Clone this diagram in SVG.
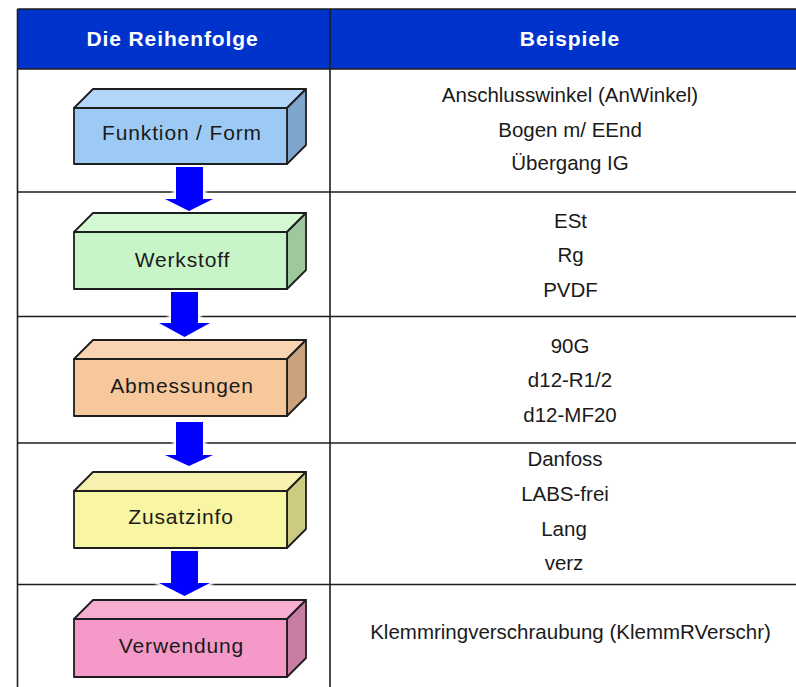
<svg xmlns="http://www.w3.org/2000/svg" width="796" height="687" viewBox="0 0 796 687">
  <defs>
    <style>
      .grid { stroke: #1e1e1e; stroke-width: 1.6; fill: none; }
      .head { font-family: "Liberation Sans", Arial, sans-serif; font-weight: bold; font-size: 21px; letter-spacing: 0.9px; fill: #ffffff; text-anchor: middle; }
      .ex { font-family: "Liberation Sans", Arial, sans-serif; font-size: 20.5px; fill: #1a1a1a; text-anchor: middle; }
      .lbl { font-family: "Liberation Sans", Arial, sans-serif; font-size: 21px; letter-spacing: 0.85px; fill: #1a1a1a; text-anchor: middle; }
      .edge { stroke: #1e1e1e; stroke-width: 1.8; stroke-linejoin: round; }
      .arrow { fill: #0000ff; }
      .halo { fill: #ffffff; stroke: #ffffff; stroke-width: 6; stroke-linejoin: round; filter: url(#soft); }
    </style>
    <filter id="soft" x="-20%" y="-20%" width="140%" height="140%">
      <feGaussianBlur stdDeviation="1.6"/>
    </filter>
  </defs>

  <rect width="796" height="687" fill="#ffffff"/>

  <!-- table frame and header -->
  <g id="table">
    <rect x="17.5" y="9" width="800" height="60" fill="#0033cc"/>
    <line class="grid" x1="17.5" y1="9" x2="800" y2="9"/>
    <line class="grid" x1="17.5" y1="69" x2="800" y2="69"/>
    <line class="grid" x1="17.5" y1="192" x2="800" y2="192"/>
    <line class="grid" x1="17.5" y1="316.5" x2="800" y2="316.5"/>
    <line class="grid" x1="17.5" y1="443" x2="800" y2="443"/>
    <line class="grid" x1="17.5" y1="584.5" x2="800" y2="584.5"/>
    <line class="grid" x1="17.5" y1="9" x2="17.5" y2="690"/>
    <line class="grid" x1="330" y1="9" x2="330" y2="690"/>
    <text class="head" x="172.5" y="46">Die Reihenfolge</text>
    <text class="head" x="570" y="46">Beispiele</text>
  </g>

  <!-- examples column -->
  <g id="examples">
    <text class="ex" x="570" y="102">Anschlusswinkel (AnWinkel)</text>
    <text class="ex" x="570" y="136.5">Bogen m/ EEnd</text>
    <text class="ex" x="570" y="170">Übergang IG</text>

    <text class="ex" x="570.5" y="228">ESt</text>
    <text class="ex" x="570.5" y="262">Rg</text>
    <text class="ex" x="570.5" y="297">PVDF</text>

    <text class="ex" x="570" y="352.5">90G</text>
    <text class="ex" x="570" y="387">d12-R1/2</text>
    <text class="ex" x="570" y="421.5">d12-MF20</text>

    <text class="ex" x="565" y="466">Danfoss</text>
    <text class="ex" x="565" y="501">LABS-frei</text>
    <text class="ex" x="564" y="535.5">Lang</text>
    <text class="ex" x="564" y="570">verz</text>

    <text class="ex" x="570.5" y="638.5">Klemmringverschraubung (KlemmRVerschr)</text>
  </g>

  <!-- flow arrows between the steps -->
  <g id="connectors">
    <g id="halos">
      <polygon class="halo" points="176,167 203,167 203,199 213,199 189,211 165,199 176,199"/>
      <polygon class="halo" points="171,292 198,292 198,323 210,323 184.5,337 159,323 171,323"/>
      <polygon class="halo" points="176,422 203,422 203,455 213,455 189,466 165,455 176,455"/>
      <polygon class="halo" points="171,551 198,551 198,583 210,583 184.5,596 159,583 171,583"/>
    </g>
    <polygon class="arrow" points="176,167 203,167 203,199 213,199 189,211 165,199 176,199"/>
    <polygon class="arrow" points="171,292 198,292 198,323 210,323 184.5,337 159,323 171,323"/>
    <polygon class="arrow" points="176,422 203,422 203,455 213,455 189,466 165,455 176,455"/>
    <polygon class="arrow" points="171,551 198,551 198,583 210,583 184.5,596 159,583 171,583"/>
  </g>

  <!-- step boxes -->
  <g id="funktion">
    <polygon class="edge" fill="#b2d6fa" points="74,108 93,89 306,89 287,108"/>
    <polygon class="edge" fill="#7ea6cc" points="287,108 306,89 306,145 287,164"/>
    <rect class="edge" x="74" y="108" width="213" height="56" fill="#9dcaf5"/>
    <text class="lbl" x="182" y="140">Funktion / Form</text>
  </g>

  <g id="werkstoff">
    <polygon class="edge" fill="#d4f8d4" points="74,232 93,213 306,213 287,232"/>
    <polygon class="edge" fill="#9fc89f" points="287,232 306,213 306,270 287,289"/>
    <rect class="edge" x="74" y="232" width="213" height="57" fill="#c8f5c8"/>
    <text class="lbl" x="182.5" y="267">Werkstoff</text>
  </g>

  <g id="abmessungen">
    <polygon class="edge" fill="#f9d4b0" points="74,359 93,340 306,340 287,359"/>
    <polygon class="edge" fill="#cca27c" points="287,359 306,340 306,397 287,416"/>
    <rect class="edge" x="74" y="359" width="213" height="57" fill="#f7c89c"/>
    <text class="lbl" x="182" y="393">Abmessungen</text>
  </g>

  <g id="zusatzinfo">
    <polygon class="edge" fill="#f6f2ae" points="74,491 93,472 306,472 287,491"/>
    <polygon class="edge" fill="#cccb80" points="287,491 306,472 306,529 287,548"/>
    <rect class="edge" x="74" y="491" width="213" height="57" fill="#f8f6a2"/>
    <text class="lbl" x="181" y="524">Zusatzinfo</text>
  </g>

  <g id="verwendung">
    <polygon class="edge" fill="#f6aed2" points="74,619 93,600 306,600 287,619"/>
    <polygon class="edge" fill="#c87ca4" points="287,619 306,600 306,658 287,677"/>
    <rect class="edge" x="74" y="619" width="213" height="58" fill="#f59ac8"/>
    <text class="lbl" x="181.5" y="653">Verwendung</text>
  </g>
</svg>
